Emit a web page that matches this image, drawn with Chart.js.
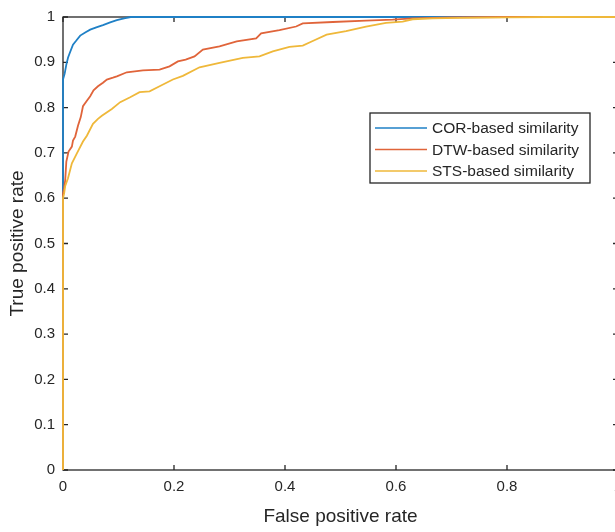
<!DOCTYPE html>
<html lang="en">
<head>
  <meta charset="UTF-8">
  <title>ROC curves</title>
  <script src="https://cdn.jsdelivr.net/npm/chart.js"></script>
  <style>
    html, body {
      margin: 0;
      padding: 0;
      background: #fff;
      overflow: hidden;
    }
    #roc {
      display: block;
    }
  </style>
</head>
<body>
  <!-- canvas is a bit wider than the window so the right edge is cut off like the original -->
  <canvas id="roc" width="640" height="532"></canvas>

  <script>
    // Series (false positive rate, true positive rate)
    const corFpr = [0, 0, 0.003, 0.006, 0.009, 0.012, 0.018, 0.024, 0.031, 0.040, 0.049, 0.060, 0.072, 0.085, 0.097, 0.110, 0.122, 0.20, 0.50, 1];
    const corTpr = [0, 0.862, 0.875, 0.895, 0.910, 0.920, 0.939, 0.948, 0.959, 0.966, 0.972, 0.977, 0.982, 0.988, 0.993, 0.997, 1, 1, 1, 1];

    const dtwFpr = [0, 0, 0.002, 0.004, 0.006, 0.010, 0.016, 0.018, 0.022, 0.027, 0.032, 0.036, 0.043, 0.049, 0.055, 0.063, 0.072, 0.079, 0.090, 0.097, 0.115, 0.144, 0.174, 0.192, 0.207, 0.221, 0.237, 0.252, 0.282, 0.313, 0.348, 0.357, 0.390, 0.420, 0.432, 0.486, 0.546, 0.594, 0.630, 0.700, 0.800, 1];
    const dtwTpr = [0, 0.610, 0.622, 0.640, 0.681, 0.703, 0.714, 0.727, 0.736, 0.760, 0.779, 0.803, 0.815, 0.825, 0.838, 0.847, 0.855, 0.862, 0.866, 0.869, 0.878, 0.882, 0.884, 0.891, 0.902, 0.906, 0.913, 0.928, 0.935, 0.946, 0.953, 0.964, 0.971, 0.979, 0.986, 0.989, 0.992, 0.994, 0.997, 0.999, 1, 1];

    const stsFpr = [0, 0, 0.002, 0.004, 0.009, 0.016, 0.025, 0.036, 0.043, 0.054, 0.063, 0.070, 0.088, 0.103, 0.121, 0.138, 0.156, 0.174, 0.198, 0.216, 0.246, 0.282, 0.324, 0.354, 0.378, 0.408, 0.432, 0.450, 0.475, 0.510, 0.546, 0.582, 0.612, 0.630, 0.666, 0.714, 0.800, 0.870, 1];
    const stsTpr = [0, 0.600, 0.610, 0.627, 0.644, 0.677, 0.699, 0.725, 0.738, 0.764, 0.775, 0.782, 0.797, 0.812, 0.823, 0.834, 0.836, 0.847, 0.862, 0.870, 0.889, 0.899, 0.910, 0.913, 0.924, 0.934, 0.937, 0.947, 0.961, 0.969, 0.979, 0.987, 0.990, 0.995, 0.997, 0.998, 0.999, 1, 1];

    const seriesLabels = ['COR-based similarity', 'DTW-based similarity', 'STS-based similarity'];
    const seriesColors = ['#1f80c6', '#e0643a', '#efb83a'];

    const xTicks = [0, 0.2, 0.4, 0.6, 0.8, 1];
    const yTicks = [0, 0.1, 0.2, 0.3, 0.4, 0.5, 0.6, 0.7, 0.8, 0.9, 1];

    const axisColor = '#262626';
    const fontFamily = 'Arial, "Liberation Sans", sans-serif';

    function toPoints(xs, ys) {
      return xs.map((x, i) => ({ x: x, y: ys[i] }));
    }

    function fmtTick(v) {
      return String(+v.toFixed(1));
    }

    // matlab style box with inward ticks, drawn under the curves
    const boxPlugin = {
      id: 'box',
      beforeDatasetsDraw(chart) {
        const { ctx, chartArea: a, scales } = chart;
        const len = 5;
        ctx.save();
        ctx.strokeStyle = axisColor;
        ctx.lineWidth = 1.3;
        ctx.strokeRect(a.left, a.top, a.right - a.left, a.bottom - a.top);
        ctx.beginPath();
        xTicks.forEach(v => {
          const px = scales.x.getPixelForValue(v);
          ctx.moveTo(px, a.bottom);
          ctx.lineTo(px, a.bottom - len);
          ctx.moveTo(px, a.top);
          ctx.lineTo(px, a.top + len);
        });
        yTicks.forEach(v => {
          const py = scales.y.getPixelForValue(v);
          ctx.moveTo(a.left, py);
          ctx.lineTo(a.left + len, py);
          ctx.moveTo(a.right, py);
          ctx.lineTo(a.right - len, py);
        });
        ctx.stroke();
        ctx.restore();
      }
    };

    // legend box inside the axes, upper right
    const legendPlugin = {
      id: 'insideLegend',
      afterDraw(chart) {
        const ctx = chart.ctx;
        const bx = 370, by = 113, bw = 220, bh = 70;
        ctx.save();
        ctx.fillStyle = '#fff';
        ctx.fillRect(bx, by, bw, bh);
        ctx.strokeStyle = axisColor;
        ctx.lineWidth = 1.3;
        ctx.strokeRect(bx, by, bw, bh);
        ctx.font = '15.5px ' + fontFamily;
        ctx.textBaseline = 'middle';
        ctx.textAlign = 'left';
        chart.data.datasets.forEach((ds, i) => {
          const y = by + 15 + i * 21.5;
          ctx.strokeStyle = ds.borderColor;
          ctx.lineWidth = 1.6;
          ctx.beginPath();
          ctx.moveTo(bx + 5, y);
          ctx.lineTo(bx + 57, y);
          ctx.stroke();
          ctx.fillStyle = axisColor;
          ctx.fillText(ds.label, bx + 62, y + 1);
        });
        ctx.restore();
      }
    };

    const datasets = [
      { label: seriesLabels[0], data: toPoints(corFpr, corTpr), borderColor: seriesColors[0], order: 2 },
      { label: seriesLabels[1], data: toPoints(dtwFpr, dtwTpr), borderColor: seriesColors[1], order: 1 },
      { label: seriesLabels[2], data: toPoints(stsFpr, stsTpr), borderColor: seriesColors[2], order: 0 }
    ].map(ds => Object.assign(ds, {
      showLine: true,
      fill: false,
      borderWidth: 1.8,
      pointRadius: 0,
      tension: 0,
      clip: 2
    }));

    new Chart(document.getElementById('roc'), {
      type: 'scatter',
      data: { datasets: datasets },
      options: {
        responsive: false,
        animation: false,
        events: [],
        layout: { padding: { top: 10, right: 22, left: 0, bottom: 0 } },
        plugins: {
          legend: { display: false },
          tooltip: { enabled: false }
        },
        scales: {
          x: {
            type: 'linear',
            min: 0,
            max: 1,
            afterFit(scale) { scale.height = 62; },
            afterBuildTicks(scale) { scale.ticks = xTicks.map(v => ({ value: v })); },
            grid: { display: false, drawTicks: false },
            border: { display: false },
            ticks: { padding: 8, color: axisColor, font: { family: fontFamily, size: 15 }, maxRotation: 0, autoSkip: false, callback: fmtTick },
            title: {
              display: true,
              text: 'False positive rate',
              color: axisColor,
              font: { family: fontFamily, size: 19 },
              padding: { top: 0, bottom: 4 }
            }
          },
          y: {
            type: 'linear',
            min: 0,
            max: 1,
            afterFit(scale) { scale.width = 63; },
            afterBuildTicks(scale) { scale.ticks = yTicks.map(v => ({ value: v })); },
            grid: { display: false, drawTicks: false },
            border: { display: false },
            ticks: { padding: 8, color: axisColor, font: { family: fontFamily, size: 15 }, callback: fmtTick },
            title: {
              display: true,
              text: 'True positive rate',
              color: axisColor,
              font: { family: fontFamily, size: 19 },
              padding: { top: 6, bottom: 0 }
            }
          }
        }
      },
      plugins: [boxPlugin, legendPlugin]
    });
  </script>
</body>
</html>
